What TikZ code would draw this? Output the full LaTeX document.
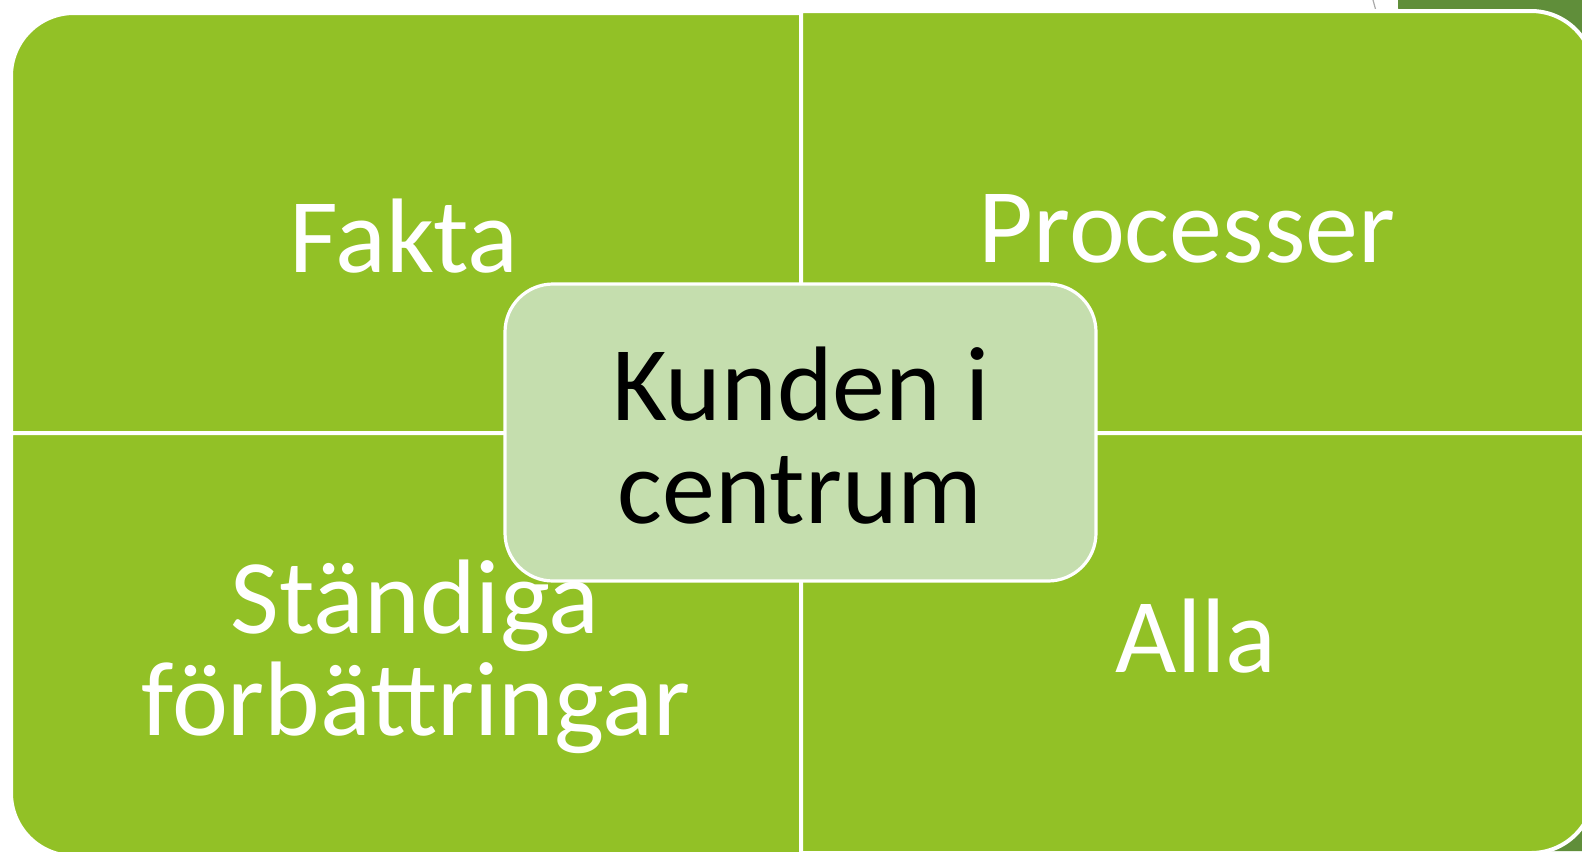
\documentclass[tikz,border=0pt]{standalone}
\usepackage{fontspec}
\setmainfont{Carlito}
\definecolor{quadgreen}{RGB}{146,193,38}
\definecolor{boxgreen}{RGB}{197,222,174}
\definecolor{darkgreen}{RGB}{96,142,58}
\definecolor{thingray}{RGB}{170,170,170}
\tikzset{
  quad/.style={fill=quadgreen, draw=white, line width=2pt},
  quadtext/.style={text=white, font=\fontsize{53}{51.5}\selectfont, anchor=base, inner sep=0pt},
  centerbox/.style={fill=boxgreen, draw=white, line width=1.6pt, rounded corners=24pt},
  centertext/.style={text=black, font=\fontsize{53}{51.5}\selectfont, anchor=base, inner sep=0pt}
}
\begin{document}
\begin{tikzpicture}[x=0.5pt,y=-0.5pt]
\useasboundingbox (0,0) rectangle (1582,851);
% background decoration at the right
\fill[darkgreen] (1398,0) -- (1582,0) -- (1582,851) -- (1420,851) -- cycle;
\draw[thingray, line width=0.6pt] (1373,0) -- (1376,11);
% four quadrants
\path[quad] (11,433) -- (11,76) arc[start angle=180, end angle=270, radius=63] -- (801,13) -- (801,433) -- cycle;
\path[quad] (801,11) -- (1531,11) arc[start angle=270, end angle=360, radius=63] -- (1594,433) -- (801,433) -- cycle;
\path[quad] (11,433) -- (801,433) -- (801,856) -- (74,856) arc[start angle=90, end angle=180, radius=63] -- cycle;
\path[quad] (801,433) -- (1594,433) -- (1594,790) arc[start angle=0, end angle=90, radius=63] -- (801,853) -- cycle;
% quadrant labels
\node[quadtext] (fakta) at (404,272) {Fakta};
\node[quadtext] (processer) at (1187,262) {Processer};
\node[quadtext] (standiga) at (415,633) {Ständiga};
\node[quadtext] (forbattringar) at (416,735) {förbättringar};
\node[quadtext] (alla) at (1196,672) {Alla};
% centre box
\path[centerbox] (505,284) rectangle (1096,581);
\node[centertext] (kunden) at (801,420) {Kunden i};
\node[centertext] (centrum) at (800,523) {centrum};
\end{tikzpicture}
\end{document}
